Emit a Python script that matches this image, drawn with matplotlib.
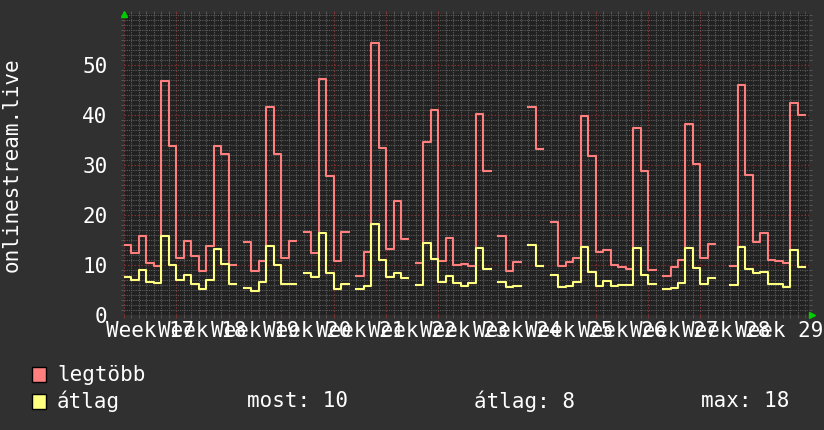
import numpy as np
import matplotlib
matplotlib.use("Agg")
import matplotlib.pyplot as plt
from matplotlib.patches import Rectangle
from matplotlib.ticker import MultipleLocator

nan = np.nan

# daily values, one per day starting at the first day of week 17
legtobb = [14.1, 12.5, 15.9, 10.5, 9.8, 46.9, 33.8,
           11.5, 14.9, 11.9, 8.9, 13.9, 33.9, 32.2,
           10.0, nan, 14.7, 8.9, 10.9, 41.7, 32.2,
           11.4, 14.9, nan, 16.7, 12.5, 47.3, 27.8,
           10.9, 16.7, nan, 7.9, 12.7, 54.5, 33.5,
           13.3, 22.9, 15.2, nan, 10.4, 34.6, 41.0,
           10.9, 15.4, 10.0, 10.2, 9.8, 40.2, 28.8,
           nan, 15.8, 8.8, 10.7, nan, 41.7, 33.3,
           nan, 18.7, 9.8, 10.7, 11.5, 39.8, 31.9,
           12.7, 13.1, 10.0, 9.7, 9.3, 37.5, 28.8,
           9.1, nan, 7.9, 9.7, 11.1, 38.2, 30.2,
           11.4, 14.2, nan, nan, 9.9, 46.0, 28.1,
           14.7, 16.5, 11.1, 10.9, 10.5, 42.5, 40.1]

atlag = [7.7, 7.1, 9.1, 6.7, 6.5, 15.9, 10.0,
         7.1, 8.1, 6.2, 5.2, 7.1, 13.3, 10.2,
         6.2, nan, 5.5, 4.8, 6.6, 13.8, 10.1,
         6.2, 6.2, nan, 8.4, 7.7, 16.5, 8.4,
         5.3, 6.2, nan, 5.3, 5.9, 18.2, 11.1,
         7.7, 8.4, 7.5, nan, 6.0, 14.5, 11.3,
         6.7, 7.9, 6.4, 5.9, 6.5, 13.5, 9.3,
         nan, 6.7, 5.7, 5.9, nan, 14.1, 9.9,
         nan, 8.1, 5.7, 5.8, 6.7, 13.7, 8.6,
         5.8, 6.9, 5.8, 6.1, 6.1, 13.5, 8.0,
         6.2, nan, 5.3, 5.5, 6.5, 13.5, 9.4,
         6.2, 7.5, nan, nan, 6.0, 13.7, 9.3,
         8.5, 8.6, 6.2, 6.2, 5.7, 13.1, 9.7]

weeks = ["Week 17", "Week 18", "Week 19", "Week 20", "Week 21", "Week 22", "Week 23",
         "Week 24", "Week 25", "Week 26", "Week 27", "Week 28", "Week 29"]
y_ticks = [0, 10, 20, 30, 40, 50]

BG = "#303030"
CANVAS = "#212121"
RED = "#ff7f7f"
YEL = "#ffff80"
MONO = "DejaVu Sans Mono"

fig = plt.figure(figsize=(8.24, 4.30), dpi=100, facecolor=BG)
W, H = 824, 430
ax = fig.add_axes([124 / W, 1 - 315 / H, (809 - 124) / W, (315 - 14) / H])
ax.set_facecolor(CANVAS)

n = len(legtobb)
x = np.arange(n + 1)
r = np.append(legtobb, legtobb[-1])
yv = np.append(atlag, atlag[-1])
ax.step(x, r, where="post", color=RED, lw=1.5, zorder=5)
ax.step(x, yv, where="post", color=YEL, lw=1.5, zorder=5)

ax.set_xlim(0, 91.5)
ax.set_ylim(0, 60.2)

ax.xaxis.set_major_locator(MultipleLocator(7))
ax.xaxis.set_minor_locator(MultipleLocator(1))
ax.set_yticks(y_ticks)
ax.yaxis.set_minor_locator(MultipleLocator(1))
ax.grid(which="minor", color="#5c5c5c", lw=0.8, linestyle=(0, (1, 1)))
ax.grid(which="major", color="#7a3434", lw=0.8, linestyle=(0, (1.5, 1.5)))
ax.set_axisbelow(True)
for s in ax.spines.values():
    s.set_visible(False)

ax.set_xticklabels([])
ax.set_yticklabels([str(v) for v in y_ticks], family=MONO, fontsize=15, color="white")
ax.tick_params(which="major", axis="y", length=0, pad=12)
ax.tick_params(which="major", axis="x", length=2, color="#7a3434", top=True)
ax.tick_params(which="minor", length=2, color="#5c5c5c", top=True, right=True)

for i, lbl in enumerate(weeks):
    ax.annotate(lbl, xy=(3.5 + 7 * i, 0), xycoords=("data", "axes fraction"),
                xytext=(0, -4), textcoords="offset points", ha="center", va="top",
                family=MONO, fontsize=15, color="white", annotation_clip=False)

# green arrows at the axis ends
ax.plot([0], [1.0], marker="^", color="#00cc00", ms=5, transform=ax.transAxes,
        clip_on=False, zorder=6)
ax.plot([1.005], [0], marker=">", color="#00cc00", ms=5, transform=ax.transAxes,
        clip_on=False, zorder=6)

fig.text(12 / W, 1 - 165 / H, "onlinestream.live", rotation=90, ha="center", va="center",
         family=MONO, fontsize=15, color="white")

# legend
fig.add_artist(Rectangle((32 / W, 1 - 382 / H), 14 / W, 15 / H, transform=fig.transFigure,
                         facecolor=RED, edgecolor="black", lw=1))
fig.add_artist(Rectangle((32 / W, 1 - 409 / H), 14 / W, 15 / H, transform=fig.transFigure,
                         facecolor=YEL, edgecolor="black", lw=1))
fig.text(57 / W, 1 - 375 / H, "legtöbb", ha="left", va="center", family=MONO,
         fontsize=15, color="white")
fig.text(57 / W, 1 - 401 / H, "átlag", ha="left", va="center", family=MONO,
         fontsize=15, color="white")
fig.text(247 / W, 1 - 401 / H, "most: 10", ha="left", va="center", family=MONO,
         fontsize=15, color="white")
fig.text(474 / W, 1 - 401 / H, "átlag: 8", ha="left", va="center", family=MONO,
         fontsize=15, color="white")
fig.text(701 / W, 1 - 401 / H, "max: 18", ha="left", va="center", family=MONO,
         fontsize=15, color="white")

fig.savefig("out.png", dpi=100, facecolor=BG)
